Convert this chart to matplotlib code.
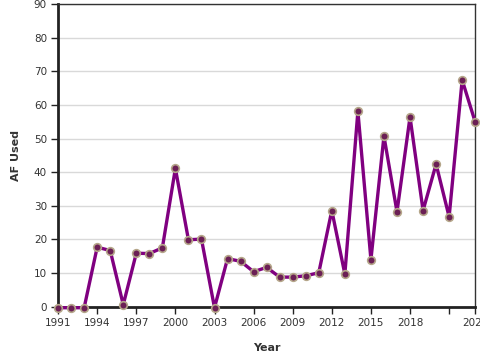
import numpy as np
import matplotlib
matplotlib.use('Agg')
import matplotlib.pyplot as plt

# data
years = list(range(1991, 2024))
af_used = [-0.3, -0.3, -0.3, 17.7, 16.7, 0.6, 15.9, 15.8, 17.5, 41.1,
           19.9, 20.1, -0.3, 14.3, 13.5, 10.4, 11.7, 8.8, 8.8, 9.2,
           10.1, 28.6, 9.7, 58.1, 14.0, 50.7, 28.2, 56.4, 28.6, 42.4,
           26.7, 67.4, 54.9]
x_ticks = list(range(1991, 2022, 3)) + [2023]
x_labels = [str(y) for y in range(1991, 2021, 3)] + ['', '2023']
y_ticks = list(range(0, 91, 10))

fig = plt.figure(figsize=(4.8, 3.6), dpi=100)
ax = fig.add_axes([0.121, 0.148, 0.869, 0.841])

ax.plot(years, af_used, color='#800080', linewidth=2.4, zorder=3,
        marker='o', markersize=5.5, markerfacecolor='#6b1f55',
        markeredgecolor='#b5a68a', markeredgewidth=1.2, clip_on=False)

ax.set_xlim(1991, 2023)
ax.set_ylim(0, 90)
ax.set_xticks(x_ticks)
ax.set_xticklabels(x_labels)
ax.set_yticks(y_ticks)
ax.grid(axis='y', color='#d9d9d9', linewidth=1)
ax.set_axisbelow(True)

for s in ['left', 'bottom']:
    ax.spines[s].set_linewidth(2)
    ax.spines[s].set_color('#222222')
for s in ['top', 'right']:
    ax.spines[s].set_linewidth(1)
    ax.spines[s].set_color('#333333')

ax.tick_params(axis='both', length=5, width=1, color='#222222',
               labelsize=7.5, labelcolor='#333333', pad=3)

ax.set_xlabel('Year', fontsize=8, fontweight='bold', color='#333333', labelpad=11)
ax.set_ylabel('AF Used', fontsize=8, fontweight='bold', color='#333333', labelpad=9)

fig.savefig('out.png', dpi=100)
